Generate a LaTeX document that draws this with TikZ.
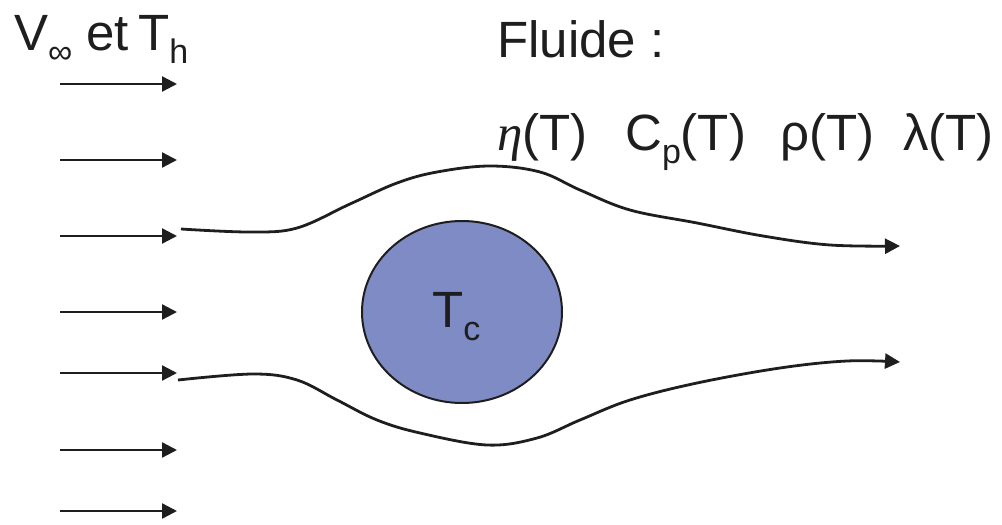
\documentclass[tikz,border=0pt]{standalone}
\usepackage{fontspec}
\setmainfont{Liberation Sans}
\newfontfamily\etafont{Liberation Serif}
\usetikzlibrary{arrows.meta,shapes.geometric}
\definecolor{ink}{RGB}{30,30,30}
\definecolor{disc}{RGB}{127,139,196}
\newcommand\lowsub[1]{\raisebox{-13pt}{\fontsize{34}{34}\selectfont #1}}
\begin{document}
\begin{tikzpicture}[x=1pt,y=-1pt,
  flow/.style={draw=ink, line width=2.4pt, -{Triangle[length=15pt,width=15pt]}},
  stream/.style={draw=ink, line width=2.8pt, -{Triangle[length=15pt,width=15pt]}},
  lbl/.style={inner sep=0pt, anchor=base west, text=ink, font=\fontsize{51}{60}\selectfont}]
\useasboundingbox (0,0) rectangle (1002,525);
% incoming uniform flow arrows
\foreach \i/\yy in {1/84,2/160,3/236,4/312,5/373,6/450,7/511}{
  \coordinate (a\i) at (60,\yy);
  \coordinate (b\i) at (177,\yy);
  \draw[flow] (a\i) -- (b\i);
}
% body
\node[draw=ink, fill=disc, line width=2pt, ellipse, minimum width=200pt, minimum height=182pt, inner sep=0pt] (body) at (462,312) {};
% streamlines
\draw[stream] plot[smooth, tension=0.6] coordinates {(181,229) (250,232) (297,228) (350,204) (397,183) (437,172) (490,166) (540,172) (580,190) (630,210) (697,223) (763,236) (830,245) (900,246)};
\draw[stream] plot[smooth, tension=0.6] coordinates {(178,380) (253,374) (297,380) (337,400) (377,420) (420,433) (487,445) (537,438) (580,420) (630,400) (697,383) (780,368) (847,361) (900,362)};
% labels
\node[lbl] (vinf) at (14,50) {V\lowsub{∞} et\hspace{-5pt} T\lowsub{h}};
\node[lbl] (fluide) at (497,57) {Fluide :};
\node[lbl] (eta) at (497,150) {{\etafont\itshape η}(T)};
\node[lbl] (cp) at (625,150) {C\lowsub{p}(T)};
\node[lbl] (rho) at (780,150) {ρ(T)};
\node[lbl] (lam) at (903,150) {λ(T)};
\node[lbl] (tc) at (432,327) {T\lowsub{c}};
\end{tikzpicture}
\end{document}
